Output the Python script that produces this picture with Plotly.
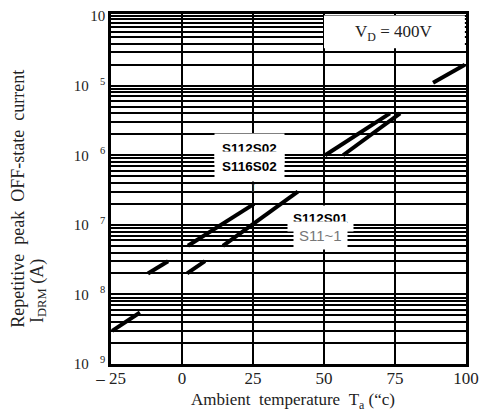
import numpy as np
import plotly.graph_objects as go

# ---- data ----
x_ticks = [-25, 0, 25, 50, 75, 100]
x_tick_text = ["\u2013 25", "0", "25", "50", "75", "100"]
y_decades = [1e-9, 1e-8, 1e-7, 1e-6, 1e-5, 1e-4]
y_exponents = ["9", "8", "7", "6", "5", ""]

# S112S02 / S116S02 pair (upper), S112S01 / S11~1 pair (lower); None = gap in scan
temp_a = [50.4, 73.2, None, 88.4, 99.6]
irdm_a = [1.0e-6, 4.0e-6, None, 1.1e-5, 2.0e-5]
temp_b = [56.7, 76.8]
irdm_b = [1.0e-6, 4.0e-6]
temp_c = [-12.0, -4.9, None, 2.1, 25.4]
irdm_c = [2.0e-8, 3.0e-8, None, 5.0e-8, 2.0e-7]
temp_d = [-24.6, -14.8, None, 1.8, 8.1, None, 14.4, 40.8]
irdm_d = [3.0e-9, 5.5e-9, None, 2.0e-8, 3.0e-8, None, 5.0e-8, 3.0e-7]

SERIF = "Liberation Serif, Times New Roman, serif"
SANS = "Liberation Sans, Arial, sans-serif"

fig = go.Figure()
for tx, iy in [(temp_a, irdm_a), (temp_b, irdm_b), (temp_c, irdm_c), (temp_d, irdm_d)]:
    fig.add_trace(go.Scatter(x=tx, y=iy, mode="lines", connectgaps=False,
                             line=dict(color="black", width=4), showlegend=False,
                             hoverinfo="skip"))

minor_vals = [k * d for d in y_decades[:-1] for k in range(2, 10)]
nb = "\u00a0"
y_tick_text = [("10" + nb * 3 + "<sup>" + e + "</sup>") if e else "10" for e in y_exponents]

fig.update_layout(
    width=488, height=413,
    margin=dict(l=111, r=22, t=8, b=49),
    paper_bgcolor="white", plot_bgcolor="white",
    font=dict(family=SERIF, color="#222"),
    xaxis=dict(range=[-25, 100], tickvals=x_ticks, ticktext=x_tick_text,
               showgrid=True, gridcolor="black", gridwidth=2,
               showline=True, linecolor="black", linewidth=2.5, mirror=True,
               ticks="", zeroline=False, ticklabelstandoff=-3,
               tickfont=dict(size=17, family=SERIF)),
    yaxis=dict(type="log", range=[-9, -3.97], tickvals=y_decades, ticktext=y_tick_text,
               showgrid=True, gridcolor="black", gridwidth=2,
               minor=dict(tickvals=minor_vals, showgrid=True, gridcolor="black",
                          gridwidth=1.5, ticks=""),
               showline=True, linecolor="black", linewidth=2.5, mirror=True,
               ticks="", zeroline=False, tickfont=dict(size=15, family=SERIF)),
)

# white box holding the condition label
fig.add_shape(type="rect", xref="x", yref="paper", x0=50, x1=99.6, y0=0.902, y1=0.996,
              fillcolor="white", line=dict(width=0), layer="above")
fig.add_annotation(x=74.3, y=-4.238, xref="x", yref="y", showarrow=False,
                   xanchor="center", yanchor="middle",
                   text="V<sub>D</sub> = 400V", font=dict(family=SERIF, size=17, color="#222"))

def label(x, logy, text, font, pad):
    fig.add_annotation(x=x, y=logy, xref="x", yref="y", showarrow=False, text=text,
                       xanchor="center", yanchor="middle",
                       font=font, bgcolor="white", borderpad=pad)

bold = dict(family=SANS, size=13.5, color="black")
label(23.9, -5.905, "<b>S112S02</b>", bold, 7)
label(23.9, -6.159, "<b>S116S02</b>", bold, 7)
label(48.9, -6.908, "<b>S112S01</b>", bold, 5)
label(48.6, -7.16, "S11~1", dict(family=SANS, size=15, color="#777"), 5)
fig.add_annotation(x=25, y=-6.47, xref="x", yref="y", showarrow=False, text="I",
                   xanchor="center", yanchor="middle",
                   font=dict(family=SERIF, size=13, color="#333"))

# axis titles
fig.add_annotation(x=-0.262, y=0.472, xref="paper", yref="paper", showarrow=False, textangle=-90,
                   xanchor="center", yanchor="middle",
                   text="Repetitive" + nb * 2 + "peak" + nb * 2 + "OFF-state" + nb * 2 + "current",
                   font=dict(family=SERIF, size=18, color="#222"))
fig.add_annotation(x=-0.206, y=0.208, xref="paper", yref="paper", showarrow=False, textangle=-90,
                   xanchor="center", yanchor="middle",
                   text="I<sub>DRM</sub> (A)", font=dict(family=SERIF, size=18, color="#222"))
fig.add_annotation(x=0.513, y=-0.106, xref="paper", yref="paper", showarrow=False,
                   xanchor="center", yanchor="middle",
                   text="Ambient" + nb * 2 + "temperature" + nb * 2 + "T<sub>a</sub> (\u201cc)",
                   font=dict(family=SERIF, size=17, color="#222"))

fig.write_html("out.html")
